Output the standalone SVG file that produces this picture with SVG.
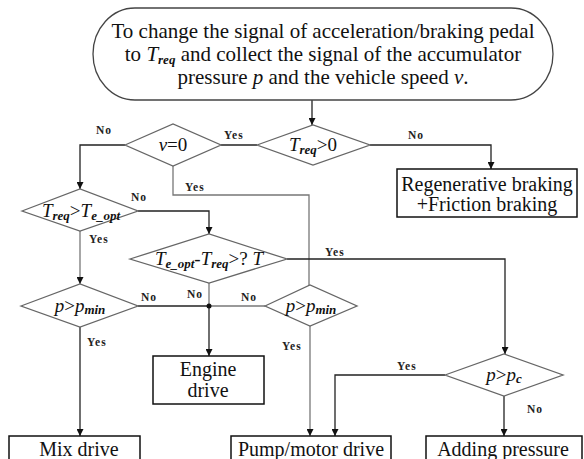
<svg xmlns="http://www.w3.org/2000/svg" width="584" height="459" viewBox="0 0 584 459">
<style>
text{font-family:'Liberation Serif','Times New Roman','DejaVu Serif',serif;fill:#111}
.big{font-size:20px}
.top{font-size:21px}
.mi{font-size:19px;font-style:italic}
.sub{font-size:13px;font-style:italic;font-weight:bold}
.lbl{font-size:11.5px;font-weight:bold;letter-spacing:1px;fill:#222}
.dia{fill:#fff;stroke:#666;stroke-width:1.3}
.box{fill:#fff;stroke:#111;stroke-width:1.5}
.con{fill:none;stroke:#222;stroke-width:1.3}
.gcon{fill:none;stroke:#777;stroke-width:1.3}
</style>
<defs>
<marker id="ar" viewBox="0 0 10 10" refX="10" refY="5" markerWidth="7" markerHeight="7" markerUnits="userSpaceOnUse" orient="auto">
<path d="M0,0 L10,5 L0,10 Z" fill="#111"/>
</marker>
</defs>
<rect width="584" height="459" fill="#fff"/>
<g id="connectors">
<path class="con" d="M312,100 V125" marker-end="url(#ar)"/>
<path class="con" d="M370,145 H491 V169" marker-end="url(#ar)"/>
<path class="con" d="M257,145 H221"/>
<path class="con" d="M125,145 H80 V189" marker-end="url(#ar)"/>
<path class="gcon" d="M173,166 V195 H309 V285"/>
<path class="con" d="M138,211 H209 V234" marker-end="url(#ar)"/>
<path class="gcon" d="M80,231 V284" marker-end="url(#ar)"/>
<path class="con" d="M287,259 H505 V354" marker-end="url(#ar)"/>
<path class="con" d="M138,306 H209"/>
<path class="gcon" d="M209,283 V306"/>
<path class="gcon" d="M265,306 H209"/>
<path class="con" d="M209,306 V356" marker-end="url(#ar)"/>
<circle cx="209" cy="306" r="2.5" fill="#111"/>
<path class="con" d="M80,327 V436" marker-end="url(#ar)"/>
<path class="gcon" d="M310,326 V436" marker-end="url(#ar)"/>
<path class="con" d="M445,375 H335 V436" marker-end="url(#ar)"/>
<path class="con" d="M504,396 V436" marker-end="url(#ar)"/>
<text class="lbl" x="408" y="139">No</text>
<text class="lbl" x="224" y="139">Yes</text>
<text class="lbl" x="96" y="134">No</text>
<text class="lbl" x="185" y="191">Yes</text>
<text class="lbl" x="131" y="201">No</text>
<text class="lbl" x="89" y="243">Yes</text>
<text class="lbl" x="325" y="256">Yes</text>
<text class="lbl" x="141" y="301">No</text>
<text class="lbl" x="187" y="298">No</text>
<text class="lbl" x="241" y="301">No</text>
<text class="lbl" x="87" y="346">Yes</text>
<text class="lbl" x="282" y="350">Yes</text>
<text class="lbl" x="397" y="370">Yes</text>
<text class="lbl" x="527" y="413">No</text>
</g>

<g id="start">
<rect x="93" y="8" width="460" height="92" rx="42" ry="46" fill="#fff" stroke="#444" stroke-width="1.3"/>
<text class="top" x="323" y="38" text-anchor="middle">To change the signal of acceleration/braking pedal</text>
<text class="top" x="323" y="61" text-anchor="middle">to  <tspan font-style="italic">T</tspan><tspan class="sub" dy="3">req</tspan><tspan dy="-3"> and collect the signal of the accumulator</tspan></text>
<text class="top" x="323" y="84" text-anchor="middle">pressure <tspan font-style="italic">p</tspan> and the vehicle speed <tspan font-style="italic">v</tspan>.</text>
</g>

<g id="d_treq0">
<polygon class="dia" points="257,145 313,125 370,145 313,165"/>
<text class="mi" x="313" y="151" text-anchor="middle">T<tspan class="sub" dy="3">req</tspan><tspan dy="-3" font-style="normal">&gt;0</tspan></text>
</g>

<g id="d_v0">
<polygon class="dia" points="125,145 173,124 221,145 173,166"/>
<text class="mi" x="173" y="151" text-anchor="middle">v<tspan font-style="normal">=0</tspan></text>
</g>

<g id="regen">
<rect class="box" x="397" y="169" width="180" height="48"/>
<text class="big" x="487" y="191" text-anchor="middle">Regenerative braking</text>
<text class="big" x="487" y="211" text-anchor="middle">+Friction braking</text>
</g>

<g id="d_teopt">
<polygon class="dia" points="22,211 80,189 138,211 80,231"/>
<text class="mi" x="81" y="217" text-anchor="middle">T<tspan class="sub" dy="3">req</tspan><tspan dy="-3" font-style="normal">&gt;</tspan>T<tspan class="sub" dy="3">e_opt</tspan></text>
</g>

<g id="d_diff">
<polygon class="dia" points="130,259 209,234 287,259 209,283"/>
<text class="mi" x="209" y="265" text-anchor="middle">T<tspan class="sub" dy="3">e_opt</tspan><tspan dy="-3" font-style="normal">-</tspan>T<tspan class="sub" dy="3">req</tspan><tspan dy="-3" font-style="normal">&gt;? </tspan>T</text>
</g>

<g id="d_pmin1">
<polygon class="dia" points="21,306 80,284 138,306 80,327"/>
<text class="mi" x="80" y="312" text-anchor="middle">p<tspan font-style="normal">&gt;</tspan>p<tspan class="sub" dy="2">min</tspan></text>
</g>

<g id="d_pmin2">
<polygon class="dia" points="265,306 310,285 357,306 310,326"/>
<text class="mi" x="311" y="312" text-anchor="middle">p<tspan font-style="normal">&gt;</tspan>p<tspan class="sub" dy="2">min</tspan></text>
</g>

<g id="d_pc">
<polygon class="dia" points="445,375 504,354 563,375 504,396"/>
<text class="mi" x="504" y="381" text-anchor="middle">p<tspan font-style="normal">&gt;</tspan>p<tspan class="sub" dy="2">c</tspan></text>
</g>

<g id="engine">
<rect class="box" x="153" y="356" width="111" height="48"/>
<text class="big" x="208" y="376" text-anchor="middle">Engine</text>
<text class="big" x="208" y="397" text-anchor="middle">drive</text>
</g>

<g id="mix">
<rect class="box" x="9" y="436" width="131" height="40"/>
<text class="big" x="79" y="456" text-anchor="middle">Mix drive</text>
</g>

<g id="pump">
<rect class="box" x="231" y="436" width="160" height="40"/>
<text class="big" x="311" y="456" text-anchor="middle">Pump/motor drive</text>
</g>

<g id="adding">
<rect class="box" x="426" y="436" width="156" height="40"/>
<text class="big" x="503" y="456" text-anchor="middle">Adding pressure</text>
</g>
</svg>
